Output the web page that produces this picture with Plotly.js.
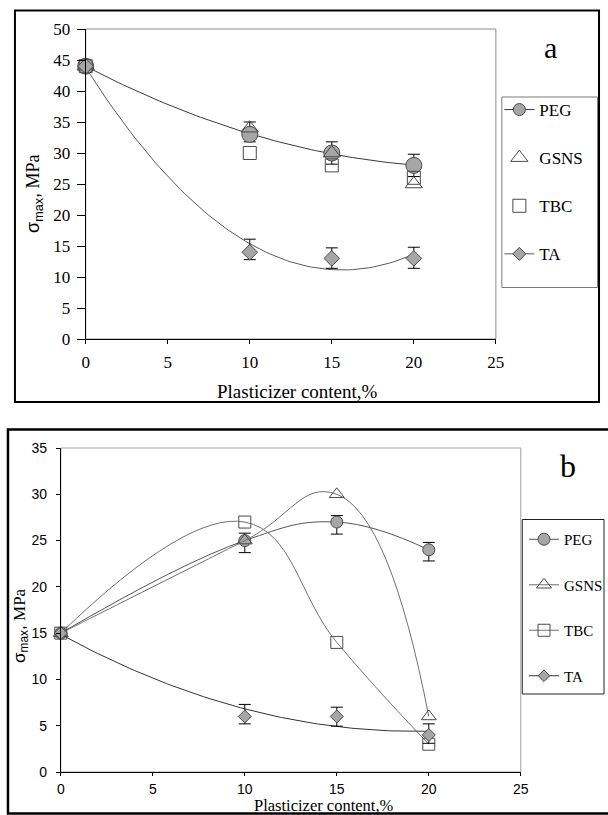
<!DOCTYPE html>
<html>
<head>
<meta charset="utf-8">
<script src="https://cdn.plot.ly/plotly-3.0.1.min.js"></script>
<style>html,body{margin:0;padding:0;background:#fff;overflow:hidden;}#chart{width:608px;height:815px;overflow:hidden;}</style>
</head>
<body>
<div id="chart"></div>
<script>
// ---- data ----
const content = [0, 10, 15, 20];
const xTicks = [0, 5, 10, 15, 20, 25];
const seriesNames = ['PEG', 'GSNS', 'TBC', 'TA'];

// panel a
const PEG_a  = [44, 33, 30, 28];
const GSNS_a = [44, 34, 30, 25];
const TBC_a  = [44, 30, 28, 26];
const TA_a   = [44, 14, 13, 13];
const PEG_a_errPlus  = [null, 2.0, 1.8, 1.8];
const PEG_a_errMinus = [null, 1.2, 1.8, 1.8];
const TA_a_errPlus   = [null, 2.1, 1.7, 1.8];
const TA_a_errMinus  = [null, 1.2, 1.6, 1.6];
const yTicks_a = [0, 5, 10, 15, 20, 25, 30, 35, 40, 45, 50];

// panel b
const PEG_b  = [15, 25, 27, 24];
const GSNS_b = [15, 25, 30, 6];
const TBC_b  = [15, 27, 14, 3];
const TA_b   = [15, 6, 6, 4];
const PEG_b_errPlus  = [null, 0.8, 0.7, 0.8];
const PEG_b_errMinus = [null, 1.3, 1.3, 1.2];
const TA_b_errPlus   = [null, 1.3, 1.0, 1.2];
const TA_b_errMinus  = [null, 0.8, 1.05, 0.9];
const yTicks_b = [0, 5, 10, 15, 20, 25, 30, 35];

// ---- helpers ----
const W = 608, H = 815;
const px = v => v / W;
const py = v => 1 - v / H;

// least-squares quadratic trendline (as in the original spreadsheet)
function quadFit(x, y) {
  const S = [0,0,0,0,0], T = [0,0,0];
  for (let i = 0; i < x.length; i++) {
    for (let k = 0; k < 5; k++) S[k] += Math.pow(x[i], k);
    for (let k = 0; k < 3; k++) T[k] += Math.pow(x[i], k) * y[i];
  }
  const M = [[S[0],S[1],S[2]],[S[1],S[2],S[3]],[S[2],S[3],S[4]]];
  const det = m => m[0][0]*(m[1][1]*m[2][2]-m[1][2]*m[2][1]) - m[0][1]*(m[1][0]*m[2][2]-m[1][2]*m[2][0]) + m[0][2]*(m[1][0]*m[2][1]-m[1][1]*m[2][0]);
  const D = det(M);
  const coef = [0,1,2].map(c => det(M.map((row, r) => row.map((v, j) => j === c ? T[r] : v))) / D);
  const xs = [], ys = [];
  const x0 = Math.min(...x), x1 = Math.max(...x);
  for (let t = x0; t <= x1 + 1e-9; t += 0.25) { xs.push(t); ys.push(coef[0] + coef[1]*t + coef[2]*t*t); }
  return {x: xs, y: ys};
}

const GRAY = '#a6a6a6', EDGE = '#4a4a4a';
const serif = 'Liberation Serif';
const sans = 'Liberation Sans';

const fitPEG_a = quadFit(content, PEG_a);
const fitTA_a = quadFit(content, TA_a);
const fitTA_b = quadFit(content, TA_b);

const mk = (sym, size, open) => open
  ? {symbol: sym, size: size, color: EDGE, line: {color: EDGE, width: 1}}
  : {symbol: sym, size: size, color: GRAY, line: {color: EDGE, width: 1}};

const traces = [
  // ---- panel a ----
  {x: fitPEG_a.x, y: fitPEG_a.y, xaxis: 'x', yaxis: 'y', mode: 'lines', line: {color: '#3a3a3a', width: 1}, showlegend: false, hoverinfo: 'skip', cliponaxis: false},
  {x: fitTA_a.x, y: fitTA_a.y, xaxis: 'x', yaxis: 'y', mode: 'lines', line: {color: '#5a5a5a', width: 1}, showlegend: false, hoverinfo: 'skip', cliponaxis: false},
  {x: content, y: PEG_a, xaxis: 'x', yaxis: 'y', mode: 'markers', name: seriesNames[0], marker: mk('circle', 16), showlegend: false, cliponaxis: false,
   error_y: {type: 'data', symmetric: false, array: PEG_a_errPlus, arrayminus: PEG_a_errMinus, color: '#000', thickness: 1, width: 6}},
  {x: content, y: GSNS_a, xaxis: 'x', yaxis: 'y', mode: 'markers', name: seriesNames[1], marker: mk('triangle-up-open', 15, true), legend: 'legend', legendgroup: 'a2', legendrank: 2, cliponaxis: false},
  {x: content, y: TBC_a, xaxis: 'x', yaxis: 'y', mode: 'markers', name: seriesNames[2], marker: mk('square-open', 13, true), legend: 'legend', legendgroup: 'a3', legendrank: 3, cliponaxis: false},
  {x: content, y: TA_a, xaxis: 'x', yaxis: 'y', mode: 'markers', name: seriesNames[3], marker: mk('diamond', 12), showlegend: false, cliponaxis: false,
   error_y: {type: 'data', symmetric: false, array: TA_a_errPlus, arrayminus: TA_a_errMinus, color: '#000', thickness: 1, width: 6}},
  // legend-only entries (line + marker)
  {x: [null], y: [null], xaxis: 'x', yaxis: 'y', mode: 'lines+markers', name: seriesNames[0], marker: mk('circle', 12), line: {color: '#3a3a3a', width: 1}, legend: 'legend', legendgroup: 'a1', legendrank: 1},
  {x: [null], y: [null], xaxis: 'x', yaxis: 'y', mode: 'lines+markers', name: seriesNames[3], marker: mk('diamond', 10), line: {color: '#5a5a5a', width: 1}, legend: 'legend', legendgroup: 'a4', legendrank: 4},

  // ---- panel b ----
  {x: content, y: PEG_b, xaxis: 'x2', yaxis: 'y2', mode: 'lines+markers', name: seriesNames[0], line: {shape: 'spline', smoothing: 1.2, color: '#555', width: 1}, marker: mk('circle', 12), legend: 'legend2', legendgroup: 'b1', legendrank: 1, cliponaxis: false,
   error_y: {type: 'data', symmetric: false, array: PEG_b_errPlus, arrayminus: PEG_b_errMinus, color: '#000', thickness: 1, width: 6}},
  {x: content, y: GSNS_b, xaxis: 'x2', yaxis: 'y2', mode: 'lines+markers', name: seriesNames[1], line: {shape: 'spline', smoothing: 1.3, color: '#707070', width: 1}, marker: mk('triangle-up-open', 13, true), legend: 'legend2', legendgroup: 'b2', legendrank: 2, cliponaxis: false},
  {x: content, y: TBC_b, xaxis: 'x2', yaxis: 'y2', mode: 'lines+markers', name: seriesNames[2], line: {shape: 'spline', smoothing: 1.2, color: '#707070', width: 1}, marker: mk('square-open', 12, true), legend: 'legend2', legendgroup: 'b3', legendrank: 3, cliponaxis: false},
  {x: fitTA_b.x, y: fitTA_b.y, xaxis: 'x2', yaxis: 'y2', mode: 'lines', line: {color: '#333', width: 1}, showlegend: false, hoverinfo: 'skip', cliponaxis: false},
  {x: content, y: TA_b, xaxis: 'x2', yaxis: 'y2', mode: 'markers', name: seriesNames[3], marker: mk('diamond', 10), showlegend: false, cliponaxis: false,
   error_y: {type: 'data', symmetric: false, array: TA_b_errPlus, arrayminus: TA_b_errMinus, color: '#000', thickness: 1, width: 6}},
  {x: [null], y: [null], xaxis: 'x2', yaxis: 'y2', mode: 'lines+markers', name: seriesNames[3], marker: mk('diamond', 9), line: {color: '#333', width: 1}, legend: 'legend2', legendgroup: 'b4', legendrank: 4}
];

const axisCommon = {showgrid: false, zeroline: false, showline: true, linecolor: '#000', linewidth: 1, ticks: 'outside', tickcolor: '#000', tickwidth: 1, fixedrange: true};

const layout = {
  width: W, height: H,
  margin: {l: 0, r: 0, t: 0, b: 0},
  paper_bgcolor: '#fff', plot_bgcolor: 'rgba(0,0,0,0)',
  showlegend: true,
  font: {family: serif, color: '#000'},
  xaxis: Object.assign({}, axisCommon, {domain: [px(86), px(497.5)], range: [0, 25], anchor: 'y', tickmode: 'array', tickvals: xTicks, ticklen: 4,
    ticklabelstandoff: 4, tickfont: {family: serif, size: 17, color: '#000'}}),
  yaxis: Object.assign({}, axisCommon, {domain: [py(339), py(29)], range: [0, 50], anchor: 'x', tickmode: 'array', tickvals: yTicks_a, ticklen: 8,
    ticklabelstandoff: 3, tickfont: {family: serif, size: 17, color: '#000'}}),
  xaxis2: Object.assign({}, axisCommon, {domain: [px(61), px(522.5)], range: [0, 25], anchor: 'y2', tickmode: 'array', tickvals: xTicks, ticklen: 3,
    ticklabelstandoff: 1, tickfont: {family: sans, size: 14, color: '#000'}}),
  yaxis2: Object.assign({}, axisCommon, {domain: [py(772), py(448)], range: [0, 35], anchor: 'x2', tickmode: 'array', tickvals: yTicks_b, ticklen: 4,
    ticklabelstandoff: 6, tickfont: {family: sans, size: 14, color: '#000'}}),
  legend: {x: px(501), y: py(92), xanchor: 'left', yanchor: 'top', bgcolor: 'rgba(0,0,0,0)', borderwidth: 0,
    font: {family: serif, size: 17, color: '#000'}, traceorder: 'grouped', tracegroupgap: 23, itemwidth: 30},
  legend2: {x: px(526), y: py(523), xanchor: 'left', yanchor: 'top', bgcolor: 'rgba(0,0,0,0)', borderwidth: 0,
    font: {family: serif, size: 15, color: '#000'}, traceorder: 'grouped', tracegroupgap: 23, itemwidth: 30},
  shapes: [
    // panel frames
    {type: 'rect', xref: 'paper', yref: 'paper', x0: px(15), x1: px(601), y0: py(10.5), y1: py(402), line: {color: '#000', width: 2}},
    {type: 'rect', xref: 'paper', yref: 'paper', x0: px(8), x1: px(640), y0: py(429.5), y1: py(813.5), line: {color: '#000', width: 2.5}},
    // plot-area boxes
    {type: 'rect', xref: 'x domain', yref: 'y domain', x0: 0, x1: 1, y0: 0, y1: 1, line: {color: '#8c8c8c', width: 1}, layer: 'below'},
    {type: 'rect', xref: 'x2 domain', yref: 'y2 domain', x0: 0, x1: 1, y0: 0, y1: 1, line: {color: '#a0a0a0', width: 1}, layer: 'below'},
    // legend boxes
    {type: 'rect', xref: 'paper', yref: 'paper', x0: px(503.5), x1: px(599.5), y0: py(97), y1: py(287.5), line: {color: '#7a7a7a', width: 1}},
    {type: 'rect', xref: 'paper', yref: 'paper', x0: px(524), x1: px(606), y0: py(519.5), y1: py(694), line: {color: '#222', width: 1}}
  ],
  annotations: [
    {xref: 'paper', yref: 'paper', x: px(552), y: py(47), text: 'a', showarrow: false, xanchor: 'center', yanchor: 'middle', font: {family: serif, size: 30, color: '#000'}},
    {xref: 'paper', yref: 'paper', x: px(570), y: py(466), text: 'b', showarrow: false, xanchor: 'center', yanchor: 'middle', font: {family: serif, size: 32, color: '#000'}},
    {xref: 'paper', yref: 'paper', x: px(298), y: py(391), text: 'Plasticizer content,%', showarrow: false, xanchor: 'center', yanchor: 'middle', font: {family: serif, size: 19, color: '#000'}},
    {xref: 'paper', yref: 'paper', x: px(325), y: py(805.5), text: 'Plasticizer content,%', showarrow: false, xanchor: 'center', yanchor: 'middle', font: {family: serif, size: 16.5, color: '#000'}},
    {xref: 'paper', yref: 'paper', x: px(35), y: py(194), text: '<span style="font-family:Liberation Sans">σ<sub>max</sub>,</span> MPa', textangle: -90, showarrow: false, xanchor: 'center', yanchor: 'middle', font: {family: serif, size: 18, color: '#000'}},
    {xref: 'paper', yref: 'paper', x: px(21), y: py(625), text: '<span style="font-family:Liberation Sans">σ<sub>max</sub>,</span> MPa', textangle: -90, showarrow: false, xanchor: 'center', yanchor: 'middle', font: {family: serif, size: 17, color: '#000'}}
  ]
};

Plotly.newPlot('chart', traces, layout, {displayModeBar: false, staticPlot: true});
</script>
</body>
</html>
